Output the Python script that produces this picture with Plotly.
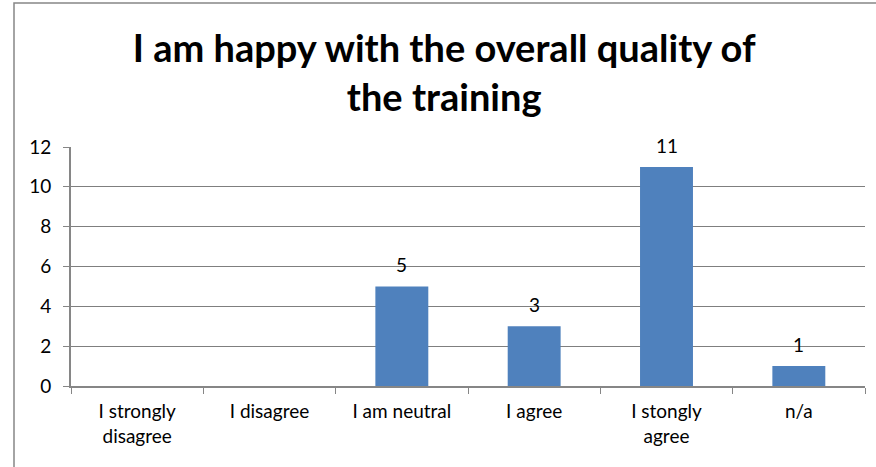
import plotly.graph_objects as go

categories = ["I strongly<br>disagree", "I disagree", "I am neutral", "I agree", "I stongly<br>agree", "n/a"]
values = [0, 0, 5, 3, 11, 1]
labels = ["", "", "5", "3", "11", "1"]
y_ticks = [0, 2, 4, 6, 8, 10, 12]

W, H = 876, 467
L, R, T, B = 71, 11, 147, 81
pw, ph = W - L - R, H - T - B

fig = go.Figure(go.Bar(
    x=categories, y=values,
    marker=dict(color="#4F81BD", line=dict(width=0)),
    cliponaxis=False,
))

for c, v, t in zip(categories, values, labels):
    if t:
        fig.add_annotation(x=c, y=v, text=t, showarrow=False, yanchor="bottom",
                           yshift=8, font=dict(size=19, color="#000000"))

def px_x(p):
    return (p - L) / pw

def px_y(p):
    return (H - B - p) / ph

fig.update_layout(
    width=W, height=H,
    margin=dict(l=L, r=R, t=T, b=B),
    paper_bgcolor="white", plot_bgcolor="white",
    font=dict(family="Lato, Carlito, sans-serif", size=19, color="#000000"),
    bargap=0.6,
    showlegend=False,
    title=dict(
        text="I am happy with the overall quality of<br>the training",
        x=0.507, xanchor="center", xref="container", y=1 - 62 / H, yanchor="top", yref="container",
        font=dict(size=38, family="Lato, Carlito, sans-serif", weight="bold", color="#000000"),
    ),
    xaxis=dict(
        type="category", tickson="boundaries", ticks="outside", ticklen=6,
        tickcolor="#868686", showline=True, linecolor="#868686", linewidth=2,
        showgrid=False, tickfont=dict(size=19), ticklabelstandoff=7,
    ),
    yaxis=dict(
        range=[0, 12], tickvals=y_ticks, ticks="outside", ticklen=6,
        tickcolor="#868686", showline=True, linecolor="#868686", linewidth=2,
        showgrid=True, gridcolor="#7f7f7f", gridwidth=1.3, zeroline=False,
        tickfont=dict(size=19), ticklabelstandoff=8,
    ),
    shapes=[dict(
        type="rect", xref="paper", yref="paper",
        x0=px_x(14), x1=px_x(W + 20), y0=px_y(H + 20), y1=px_y(3),
        line=dict(color="#868686", width=1.5), fillcolor="rgba(0,0,0,0)",
        layer="below",
    )],
)

fig.write_html("out.html", config={"displayModeBar": False},
               post_script="document.body.style.margin='0';document.body.style.overflow='hidden';")
